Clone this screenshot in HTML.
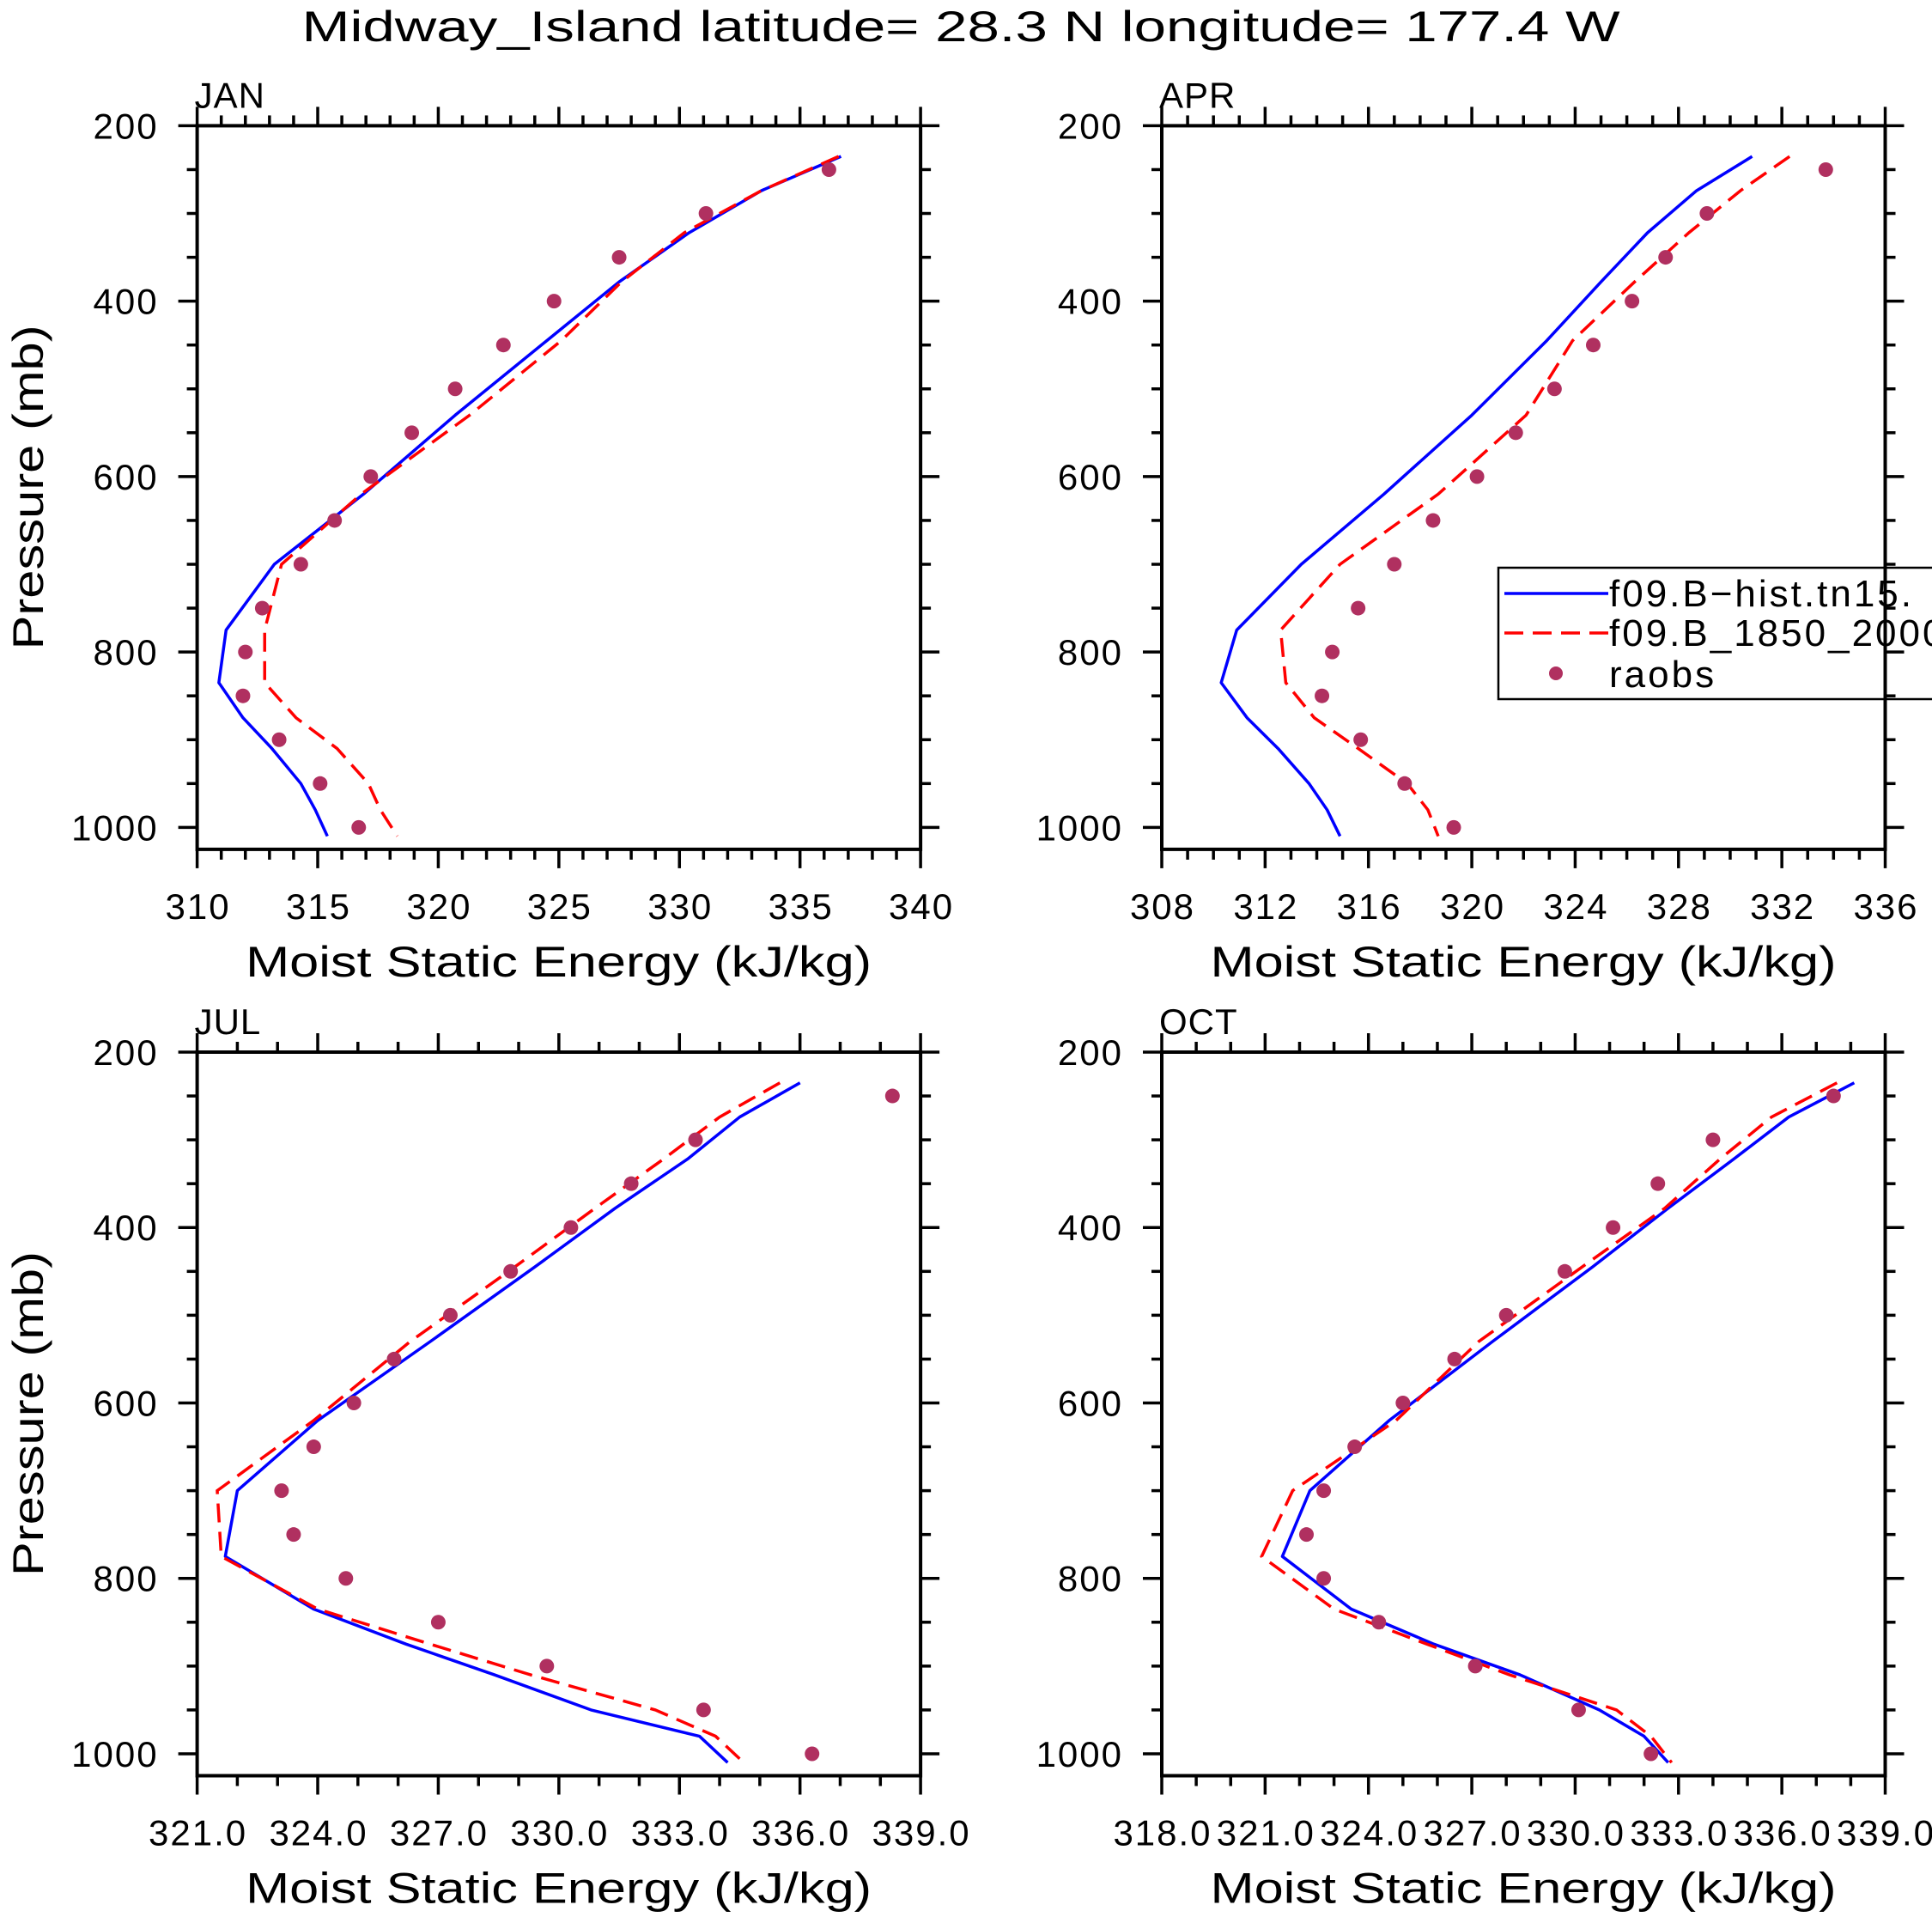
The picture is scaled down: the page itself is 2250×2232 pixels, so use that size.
<!DOCTYPE html>
<html><head><meta charset="utf-8"><style>
html,body{margin:0;padding:0;background:#fff;}
svg{display:block;font-family:"Liberation Sans",sans-serif;}
</style></head><body>
<svg id="chart" width="2250" height="2232" viewBox="0 0 2250 2232" xmlns="http://www.w3.org/2000/svg">
<rect x="0" y="0" width="2250" height="2232" fill="#fff"/>
<text x="1119" y="48" font-size="50" text-anchor="middle" textLength="1535" lengthAdjust="spacingAndGlyphs">Midway_Island  latitude= 28.3 N longitude= 177.4 W</text>
<g id="plots"></g>
</svg>
<script>
const modelLevels = [235, 274, 322, 378, 445, 530, 620, 700, 775, 835, 875, 910, 950, 980, 1010];
const obsLevels = [250, 300, 350, 400, 450, 500, 550, 600, 650, 700, 750, 800, 850, 900, 950, 1000];
const monthNames = ["JAN", "APR", "JUL", "OCT"];
const histJAN = [336.7, 333.4, 330.4, 327.5, 324.5, 320.7, 316.9, 313.2, 311.2, 310.9, 311.9, 313.1, 314.3, 314.9, 315.4];
const preJAN  = [336.6, 333.4, 330.2, 327.6, 325.1, 321.3, 316.8, 313.5, 312.8, 312.8, 314.1, 315.8, 317.1, 317.6, 318.3];
const obsJAN  = [336.2, 331.1, 327.5, 324.8, 322.7, 320.7, 318.9, 317.2, 315.7, 314.3, 312.7, 312.0, 311.9, 313.4, 315.1, 316.7];
const histAPR = [330.85, 328.7, 326.8, 325.0, 322.9, 320.0, 316.6, 313.4, 310.9, 310.3, 311.3, 312.5, 313.7, 314.4, 314.9];
const preAPR  = [332.3, 330.4, 328.4, 326.3, 323.9, 322.1, 318.7, 314.9, 312.6, 312.8, 313.9, 315.6, 317.5, 318.3, 318.7];
const obsAPR  = [333.7, 329.1, 327.5, 326.2, 324.7, 323.2, 321.7, 320.2, 318.5, 317.0, 315.6, 314.6, 314.2, 315.7, 317.4, 319.3];
const histJUL = [336.0, 334.5, 333.2, 331.4, 329.4, 326.8, 324.0, 322.0, 321.7, 323.9, 326.2, 328.4, 330.8, 333.5, 334.2];
const preJUL  = [335.5, 334.0, 332.6, 330.9, 328.9, 326.3, 323.9, 321.5, 321.6, 324.0, 326.8, 329.3, 332.4, 333.9, 334.6];
const obsJUL  = [338.3, 333.4, 331.8, 330.3, 328.8, 327.3, 325.9, 324.9, 323.9, 323.1, 323.4, 324.7, 327.0, 329.7, 333.6, 336.3];
const histOCT = [338.1, 336.2, 334.6, 332.7, 330.5, 327.6, 324.6, 322.3, 321.5, 323.5, 325.9, 328.4, 330.7, 332.0, 332.7];
const preOCT  = [337.6, 335.7, 334.2, 332.6, 330.2, 327.2, 324.8, 321.8, 320.9, 323.0, 325.7, 328.1, 331.2, 332.2, 332.8];
const obsOCT  = [337.5, 334.0, 332.4, 331.1, 329.7, 328.0, 326.5, 325.0, 323.6, 322.7, 322.2, 322.7, 324.3, 327.1, 330.1, 332.2];
const xMinJAN = 310, xMaxJAN = 340, xStepJAN = 5;
const xMinAPR = 308, xMaxAPR = 336, xStepAPR = 4;
const xMinJUL = 321, xMaxJUL = 339, xStepJUL = 3;
const xMinOCT = 318, xMaxOCT = 339, xStepOCT = 3;
const yTickLabels = [200, 400, 600, 800, 1000];
const legendLabels = ["f09.B\u2212hist.tn15.", "f09.B_1850_2000", "raobs"];

const NS = "http://www.w3.org/2000/svg";
const root = document.getElementById("plots");
function mk(tag, attrs, parent) {
  const e = document.createElementNS(NS, tag);
  for (const k in attrs) e.setAttribute(k, attrs[k]);
  (parent || root).appendChild(e);
  return e;
}
const W = 842.5, H = 842.5, PMIN = 200, PMAX = 1025;
const panels = [
  {name: monthNames[0], L: 229.6, T: 146.4, xmin: xMinJAN, xmax: xMaxJAN, step: xStepJAN, dec: 0, hist: histJAN, pre: preJAN, obs: obsJAN},
  {name: monthNames[1], L: 1353, T: 146.4, xmin: xMinAPR, xmax: xMaxAPR, step: xStepAPR, dec: 0, hist: histAPR, pre: preAPR, obs: obsAPR},
  {name: monthNames[2], L: 229.6, T: 1225, xmin: xMinJUL, xmax: xMaxJUL, step: xStepJUL, dec: 1, hist: histJUL, pre: preJUL, obs: obsJUL},
  {name: monthNames[3], L: 1353, T: 1225, xmin: xMinOCT, xmax: xMaxOCT, step: xStepOCT, dec: 1, hist: histOCT, pre: preOCT, obs: obsOCT}
];
panels.forEach(function(P) {
  const key = P.name.toLowerCase();
  const g = mk("g", {});
  
  
  const xs = v => P.L + (v - P.xmin) / (P.xmax - P.xmin) * W;
  const ys = p => P.T + (p - PMIN) / (PMAX - PMIN) * H;
  const tg = mk("g", {stroke: "#000", "stroke-width": 3.5}, g);
  
  
  for (let v = P.xmin; v <= P.xmax + 1e-6; v += 1) {
    const major = Math.abs(((v - P.xmin) / P.step) - Math.round((v - P.xmin) / P.step)) < 1e-6;
    const len = major ? 22 : 12;
    const x = xs(v);
    mk("line", {x1: x, x2: x, y1: P.T, y2: P.T - len}, tg);
    mk("line", {x1: x, x2: x, y1: P.T + H, y2: P.T + H + len}, tg);
    if (major) {
      const t = mk("text", {x: x + 1, y: P.T + H + 81, "font-size": 42, "letter-spacing": 2, "text-anchor": "middle", stroke: "none", fill: "#000"}, g);
      t.textContent = v.toFixed(P.dec);
      
      
    }
  }
  for (let p = 200; p <= 1000; p += 50) {
    const major = p % 200 === 0;
    const len = major ? 22 : 12;
    const y = ys(p);
    mk("line", {x1: P.L, x2: P.L - len, y1: y, y2: y}, tg);
    mk("line", {x1: P.L + W, x2: P.L + W + len, y1: y, y2: y}, tg);
  }
  yTickLabels.forEach(function(p) {
    const t = mk("text", {x: P.L - 45, y: ys(p) + 15, "font-size": 42, "letter-spacing": 2, "text-anchor": "end"}, g);
    t.textContent = p;
    
    
  });
  const fr = mk("rect", {x: P.L, y: P.T, width: W, height: H, fill: "none", stroke: "#000", "stroke-width": 4}, g);
  
  
  const ml = mk("text", {x: P.L - 3, y: P.T - 21, "font-size": 42, "letter-spacing": 1}, g);
  ml.textContent = P.name;
  
  
  const xt = mk("text", {x: P.L + 421, y: P.T + H + 148, "font-size": 50, "text-anchor": "middle", textLength: 729, lengthAdjust: "spacingAndGlyphs"}, g);
  xt.textContent = "Moist Static Energy (kJ/kg)";
  
  
  if (P.L < 500) {
    const cy = P.T + 421;
    const yt = mk("text", {x: 0, y: 0, "font-size": 50, "text-anchor": "middle", textLength: 378, lengthAdjust: "spacingAndGlyphs", transform: "translate(50," + cy + ") rotate(-90)"}, g);
    yt.textContent = "Pressure (mb)";
    
    
  }
  const hl = mk("polyline", {points: P.hist.map((v, i) => xs(v) + "," + ys(modelLevels[i])).join(" "), fill: "none", stroke: "#0000ff", "stroke-width": 3.5, "stroke-linejoin": "round"}, g);
  
  
  const pl = mk("polyline", {points: P.pre.map((v, i) => xs(v) + "," + ys(modelLevels[i])).join(" "), fill: "none", stroke: "#ff0000", "stroke-width": 3.5, "stroke-dasharray": "22,11"}, g);
  
  
  P.obs.forEach(function(v, i) {
    const c = mk("circle", {cx: xs(v), cy: ys(obsLevels[i]), r: 8.5, fill: "#b03060"}, g);
    
    
  });
});
const lg = mk("g", {});


mk("rect", {x: 1745, y: 661, width: 620, height: 153, fill: "none", stroke: "#000", "stroke-width": 2.5}, lg);
mk("line", {x1: 1752, x2: 1873, y1: 691, y2: 691, stroke: "#0000ff", "stroke-width": 3.5}, lg);
mk("line", {x1: 1752, x2: 1873, y1: 737, y2: 737, stroke: "#ff0000", "stroke-width": 3.5, "stroke-dasharray": "22,11"}, lg);
mk("circle", {cx: 1812, cy: 784, r: 8, fill: "#b03060"}, lg);
[706, 752, 800].forEach(function(y, i) {
  const t = mk("text", {x: 1874, y: y, "font-size": 44, "letter-spacing": 3}, lg);
  t.textContent = legendLabels[i];
  
  
});
</script>
</body></html>
